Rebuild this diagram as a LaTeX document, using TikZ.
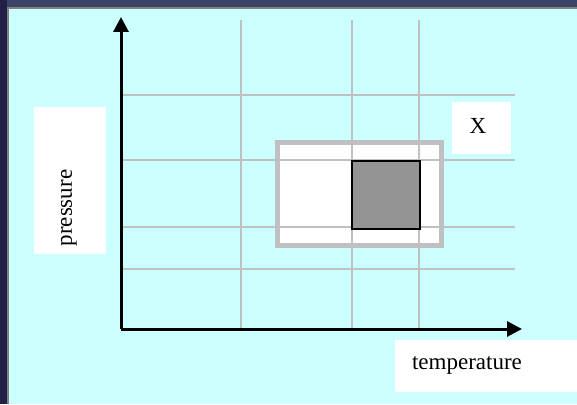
\documentclass[tikz,border=0pt]{standalone}
\usepackage{fontspec}
\setmainfont{Liberation Serif}
\usetikzlibrary{arrows.meta}

\definecolor{slidebg}{HTML}{CCFFFF}
\definecolor{navyleft}{HTML}{221F48}
\definecolor{navytop}{HTML}{3B4366}
\definecolor{gridgray}{HTML}{C0C0C0}
\definecolor{cellgray}{HTML}{949494}

\begin{document}
\begin{tikzpicture}[
  x=1pt, y=-1pt,
  font=\fontsize{23}{25}\selectfont,
  label/.style={fill=white, inner sep=0pt, anchor=north west},
  gridline/.style={draw=gridgray, line width=1.5pt},
  axis/.style={line width=3pt, -{Triangle[length=15pt, width=15pt]}}
]
\useasboundingbox (0,0) rectangle (577,404);

% --- slide background ---
\fill[navyleft] (0,0) rectangle (577,404);
\fill[navytop] (7,0) rectangle (577,7);
\fill[gray] (7,7) rectangle (577,404);
\fill[slidebg] (9,9) rectangle (577,404);

% --- region of states ---
\draw[gridgray, fill=white, line width=5pt] (277,142) rectangle (441,245);

% --- grid ---
\foreach \gy in {95,160,227,269}
  \draw[gridline] (122,\gy) -- (515,\gy);
\foreach \gx in {241,352,419}
  \draw[gridline] (\gx,20) -- (\gx,329);

% --- one cell ---
\draw[fill=cellgray, line width=1.5pt] (352,161) rectangle (420,229);

% --- axes ---
\coordinate (origin) at (121,329);
\coordinate (ytop) at (121,17);
\coordinate (xend) at (522,329);
\draw[axis] (origin) -- (ytop);
\draw[axis] (origin) -- (xend);

% --- labels ---
\node[label, minimum width=72pt, minimum height=147pt] (pbox) at (34,107) {};
\node[rotate=90] (pres) at (69,208) {pressure};
\node[label, minimum width=182pt, minimum height=52pt] (tbox) at (395,340) {};
\node (temp) at (467,365) {temperature};
\node[label, minimum width=59pt, minimum height=52pt] (xbox) at (452,102) {};
\node (xlab) at (478,126) {X};

\end{tikzpicture}
\end{document}
